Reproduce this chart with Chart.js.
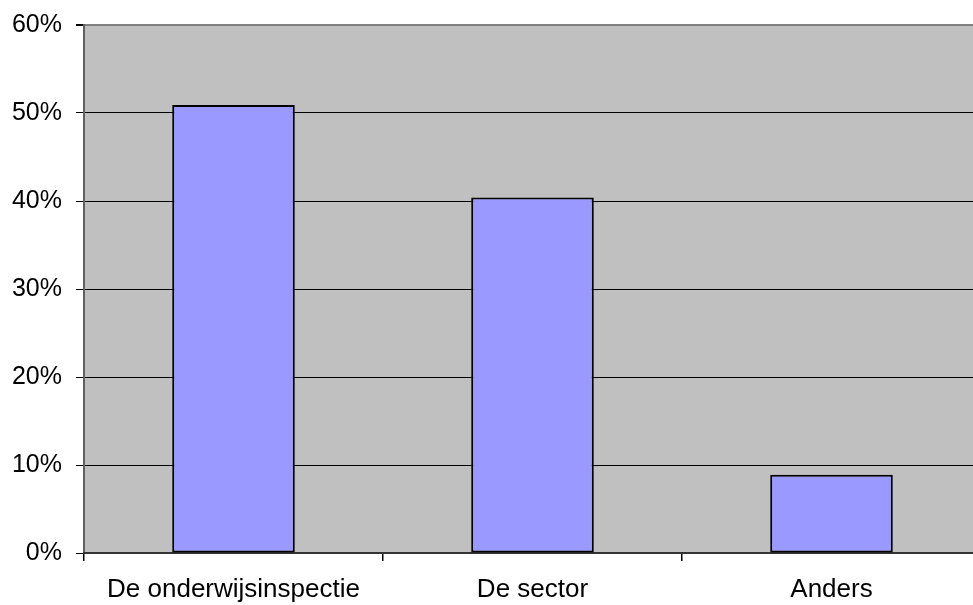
<!DOCTYPE html>
<html>
<head>
<meta charset="utf-8">
<script src="https://cdn.jsdelivr.net/npm/chart.js@4.4.0/dist/chart.umd.min.js"></script>
<style>
  html, body { margin: 0; padding: 0; background: #fff; overflow: hidden; }
  #wrap { width: 981px; height: 605px; }
</style>
</head>
<body>
<div id="wrap"><canvas id="bronChart" width="981" height="605"></canvas></div>
<script>
// Chart data
const categories = ['De onderwijsinspectie', 'De sector', 'Anders'];
const percentages = [50.9, 40.4, 8.9];
const yTicks = [0, 10, 20, 30, 40, 50, 60];

// Grey plot background
const plotBackground = {
    id: 'plotBackground',
    beforeDraw(chart) {
        const { ctx, chartArea } = chart;
        ctx.save();
        ctx.fillStyle = '#C0C0C0';
        ctx.fillRect(chartArea.left, chartArea.top, chartArea.right - chartArea.left, chartArea.bottom - chartArea.top);
        ctx.restore();
    }
};

const ctx = document.getElementById('bronChart').getContext('2d');
new Chart(ctx, {
    type: 'bar',
    data: {
        labels: categories,
        datasets: [{
            data: percentages,
            backgroundColor: '#9999FF',
            borderColor: '#000000',
            borderWidth: 2,
            borderSkipped: false,
            categoryPercentage: 1,
            barPercentage: 0.41
        }]
    },
    options: {
        responsive: false,
        animation: false,
        devicePixelRatio: 1,
        layout: { padding: { top: 25, left: 0, right: 0, bottom: 0 } },
        plugins: {
            legend: { display: false },
            tooltip: { enabled: false }
        },
        scales: {
            y: {
                min: 0,
                max: 60,
                afterBuildTicks: scale => { scale.ticks = yTicks.map(v => ({ value: v })); },
                afterFit: scale => {
                    scale.width = 84;
                    scale.paddingTop = 0;
                    scale.paddingBottom = 0;
                },
                ticks: {
                    callback: v => v + '%',
                    color: '#000',
                    padding: 14,
                    font: { family: 'Liberation Sans, Arial, sans-serif', size: 25 }
                },
                grid: {
                    color: c => (c.tick && c.tick.value === 60) ? '#808080' : '#000000',
                    lineWidth: c => (c.tick && c.tick.value === 60) ? 2 : 1,
                    tickColor: '#000000',
                    tickLength: 8
                },
                border: { color: '#606060', width: 2 }
            },
            x: {
                afterFit: scale => { scale.height = 52; },
                ticks: {
                    color: '#000',
                    padding: 13,
                    maxRotation: 0,
                    font: { family: 'Liberation Sans, Arial, sans-serif', size: 26 }
                },
                grid: {
                    offset: true,
                    drawOnChartArea: false,
                    color: '#000000',
                    lineWidth: 1.5,
                    tickLength: 8
                },
                border: { color: '#333333', width: 2 }
            }
        }
    },
    plugins: [plotBackground]
});
</script>
</body>
</html>
